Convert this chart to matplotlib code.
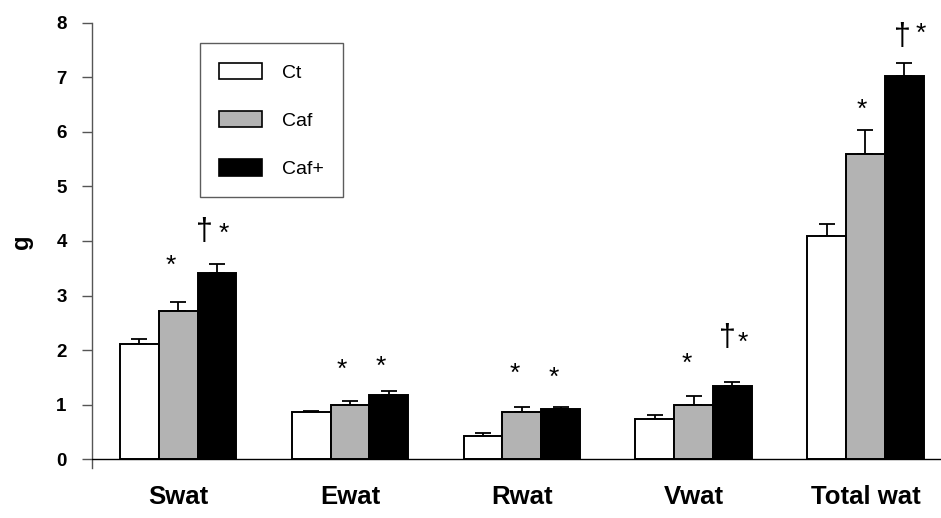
import matplotlib
matplotlib.use("Agg")
import matplotlib.pyplot as plt
import numpy as np
from matplotlib.patches import Patch

plt.rcParams['font.family'] = ['Liberation Sans', 'DejaVu Sans']

# Fat depot masses (g), mean and SEM
depots = ["Swat", "Ewat", "Rwat", "Vwat", "Total wat"]
groups = ["Ct", "Caf", "Caf+"]
ct_mean = [2.11, 0.87, 0.43, 0.74, 4.09]
ct_sem = [0.09, 0.01, 0.05, 0.08, 0.22]
caf_mean = [2.71, 0.99, 0.86, 0.99, 5.60]
caf_sem = [0.18, 0.08, 0.09, 0.17, 0.43]
cafp_mean = [3.41, 1.18, 0.92, 1.34, 7.02]
cafp_sem = [0.17, 0.07, 0.03, 0.08, 0.25]

# significance marks: (depot index, group index, symbol)
marks = [
    (0, 1, "*"), (0, 2, "\u2020"), (0, 2, "*"),
    (1, 1, "*"), (1, 2, "*"),
    (2, 1, "*"), (2, 2, "*"),
    (3, 1, "*"), (3, 2, "\u2020"), (3, 2, "*"),
    (4, 1, "*"), (4, 2, "\u2020"), (4, 2, "*"),
]
# pixel offsets of each mark from the top of its error bar
mark_offsets = [
    (-7, 36), (-13, 32), (7, 30),
    (-8, 31), (-8, 24),
    (-7, 34), (-7, 30),
    (-7, 32), (-5, 44), (10, 39),
    (-4, 20), (-2, 26), (17, 29),
]

means = [ct_mean, caf_mean, cafp_mean]
sems = [ct_sem, caf_sem, cafp_sem]
colors = ["white", "#b3b3b3", "black"]

W, H = 941, 518
fig = plt.figure(figsize=(W / 100, H / 100), dpi=100)
ax = fig.add_axes([92 / W, 50 / H, (W - 92) / W, (468 - 22.7) / H])

x = np.arange(len(depots))
bw = 0.226
for gi in range(3):
    xs = x + (gi - 1) * bw
    ax.bar(xs, means[gi], width=bw, color=colors[gi], edgecolor="black",
           linewidth=1.4, zorder=3)
    ax.errorbar(xs, means[gi], yerr=[np.zeros(len(depots)), sems[gi]],
                fmt="none", ecolor="black", elinewidth=1.3, capsize=6,
                capthick=1.3, zorder=2)

for (di, gi, sym), (dx, dy) in zip(marks, mark_offsets):
    xc = x[di] + (gi - 1) * bw
    yt = means[gi][di] + sems[gi][di]
    fs = 19 if sym == "*" else 22
    ax.annotate(sym, (xc, yt), xytext=(dx, dy), textcoords="offset pixels",
                ha="center", va="center", fontsize=fs, color="black")

ax.set_xlim(-0.502, 4.44)
ax.set_ylim(-0.16, 8)
ax.axhline(0, color="black", linewidth=1.0, zorder=4)

for s in ["top", "right", "bottom"]:
    ax.spines[s].set_visible(False)
ax.spines["left"].set_color("#555555")
ax.spines["left"].set_linewidth(1.0)

ax.set_yticks(range(9))
ax.set_yticklabels([str(v) for v in range(9)], fontsize=13.5, fontweight="bold")
ax.tick_params(axis="y", direction="out", length=7.2, width=1.0,
               color="#555555", pad=11)
ax.set_xticks(x)
ax.set_xticklabels(depots, fontsize=18.5, fontweight="bold")
ax.tick_params(axis="x", length=0, pad=12)

fig.text(22 / W, 1 - 242 / H, "g", rotation=90, fontsize=17,
         fontweight="bold", ha="center", va="center")

handles = [Patch(facecolor=c, edgecolor="black", linewidth=1.2) for c in colors]
leg = ax.legend(handles, groups, loc="upper left",
                bbox_to_anchor=(200 / W, 1 - 43.3 / H),
                bbox_transform=fig.transFigure, fontsize=14,
                frameon=True, fancybox=False, borderpad=1.0,
                handlelength=2.2, handleheight=0.93, handletextpad=1.0,
                labelspacing=1.5, borderaxespad=0)
leg.get_frame().set_edgecolor("#333333")
leg.get_frame().set_linewidth(1.0)

fig.savefig("out.png", dpi=100)
